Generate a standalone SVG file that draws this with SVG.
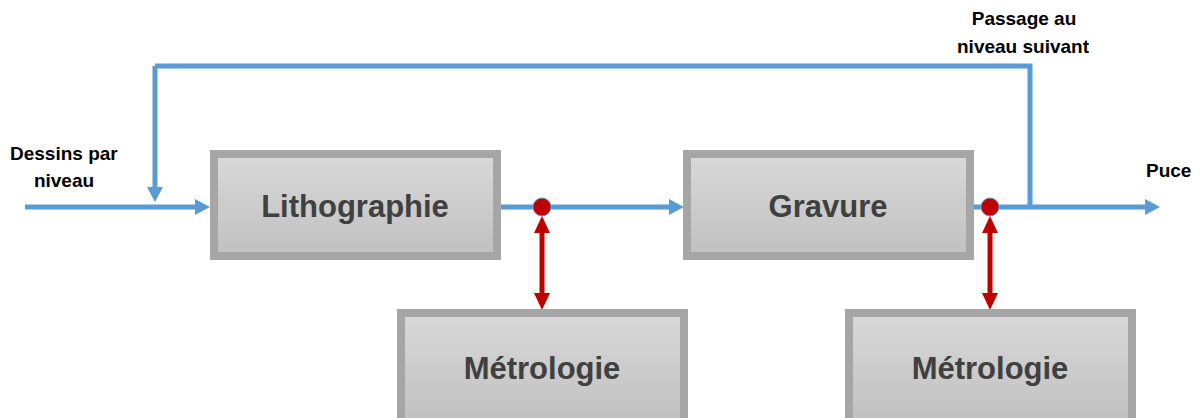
<svg xmlns="http://www.w3.org/2000/svg" width="1201" height="418" viewBox="0 0 1201 418">
<defs>
<linearGradient id="g" x1="0" y1="0" x2="0" y2="1">
<stop offset="0" stop-color="#d9d9d9"/>
<stop offset="1" stop-color="#c0c0c0"/>
</linearGradient>
</defs>
<style>
.box{fill:url(#g);stroke:#a6a6a6;stroke-width:8}
.bt{font-family:"Liberation Sans",Arial,sans-serif;font-weight:bold;font-size:31px;fill:#404040;text-anchor:middle}
.lbl{font-family:"Liberation Sans",Arial,sans-serif;font-weight:bold;font-size:19px;fill:#000}
.bl{stroke:#5b9bd5;stroke-width:5;fill:none}
.rd{stroke:#c00000;stroke-width:5;fill:none}
.ba{fill:#5b9bd5}
.ra{fill:#c00000}
</style>
<g id="connectors">
<path class="bl" d="M25,207 H198"/>
<polygon class="ba" points="210,207 195,199 195,215"/>
<path class="bl" d="M155,66 V190"/>
<polygon class="ba" points="155,202 147,187 163,187"/>
<path class="bl" d="M155,66 H1030 V207"/>
<path class="bl" d="M501,207 H672"/>
<polygon class="ba" points="684,207 669,199 669,215"/>
<path class="bl" d="M974,207 H1147"/>
<polygon class="ba" points="1160,207 1145,199 1145,215"/>
<path class="rd" d="M542,226 V297"/>
<polygon class="ra" points="542,216 534,233 550,233"/>
<polygon class="ra" points="542,310 534,293 550,293"/>
<path class="rd" d="M990,226 V297"/>
<polygon class="ra" points="990,216 982,233 998,233"/>
<polygon class="ra" points="990,310 982,293 998,293"/>
<circle cx="542" cy="207" r="9" fill="#c00000" stroke="#5b9bd5" stroke-width="1"/>
<circle cx="990" cy="207" r="9" fill="#c00000" stroke="#5b9bd5" stroke-width="1"/>
</g>
<g id="litho">
<rect class="box" x="214" y="154" width="283" height="102"/>
<text class="bt" x="355" y="217">Lithographie</text>
</g>
<g id="gravure">
<rect class="box" x="687" y="154" width="283" height="102"/>
<text class="bt" x="828" y="217">Gravure</text>
</g>
<g id="metro1">
<rect class="box" x="401" y="313" width="283" height="110"/>
<text class="bt" x="542" y="379">Métrologie</text>
</g>
<g id="metro2">
<rect class="box" x="849" y="313" width="283" height="110"/>
<text class="bt" x="990" y="379">Métrologie</text>
</g>
<g id="labels">
<text class="lbl" x="10" y="160">Dessins par</text>
<text class="lbl" x="64" y="187" text-anchor="middle">niveau</text>
<text class="lbl" x="1024" y="25" text-anchor="middle">Passage au</text>
<text class="lbl" x="1023" y="53" text-anchor="middle">niveau suivant</text>
<text class="lbl" x="1146" y="177">Puce</text>
</g>
</svg>
